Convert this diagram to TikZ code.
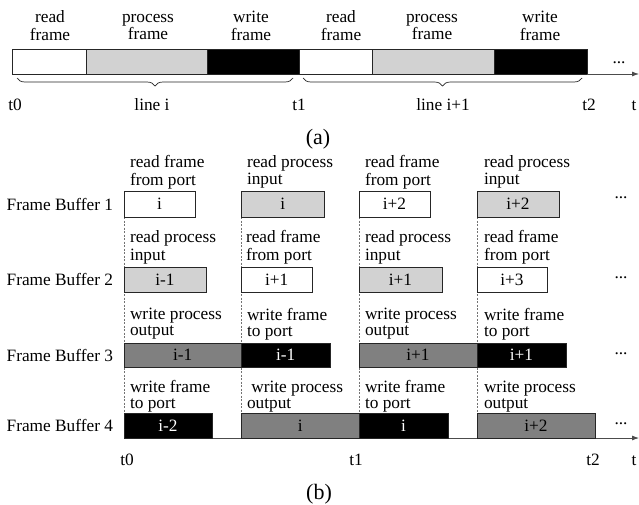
\documentclass[tikz,border=0pt]{standalone}
\usepackage{fontspec}
\setmainfont{Liberation Serif}
\usetikzlibrary{decorations.pathreplacing,arrows.meta}

\definecolor{lgray}{RGB}{210,210,210}
\definecolor{dgray}{RGB}{128,128,128}

\tikzset{
  txt/.style={font=\fontsize{17.3}{16}\selectfont, inner sep=0pt, outer sep=0pt},
  cell/.style={txt, draw=black!85, line width=0.8pt},
  wcell/.style={cell, fill=white},
  lcell/.style={cell, fill=lgray},
  dcell/.style={cell, fill=dgray},
  kcell/.style={cell, fill=black, text=white},
  tag/.style={txt, anchor=north west, align=left},
  ctag/.style={txt, anchor=north, align=center},
  tmark/.style={txt, anchor=base},
  caption/.style={tmark, font=\fontsize{22}{24}\selectfont},
  rowname/.style={txt, anchor=east},
  guide/.style={draw=black!55, line width=0.6pt, dash pattern=on 2pt off 1.5pt},
  axis/.style={draw=black!70, line width=0.8pt, -{Latex[length=7pt,width=5pt]}},
  bracket/.style={draw=black!85, line width=0.7pt,
    decorate, decoration={brace, mirror, amplitude=8pt}},
}

% \slot{style}{name}{x1}{y1}{x2}{y2}{text}
\newcommand\slot[7]{%
  \node[#1, minimum width={(#5-#3)*1pt}, minimum height={(#6-#4)*1pt}]
    (#2) at ({(#3+#5)/2},{(#4+#6)/2}) {#7};}

\begin{document}
\begin{tikzpicture}[x=1pt,y=-1pt]
\useasboundingbox (0,0) rectangle (639,504);

% ---------- (a) one line after another ----------
\slot{wcell}{r1}{12}{49}{86}{74}{}
\slot{lcell}{p1}{86}{49}{207}{74}{}
\slot{kcell}{w1}{207}{49}{299}{74}{}
\slot{wcell}{r2}{299}{49}{372}{74}{}
\slot{lcell}{p2}{372}{49}{494}{74}{}
\slot{kcell}{w2}{494}{49}{587}{74}{}

\node[ctag] (hr1) at (50,10.8)  {\strut read\\frame};
\node[ctag] (hp1) at (148,10.8) {\strut process\\ frame};
\node[ctag] (hw1) at (251,10.8) {\strut write\\frame};
\node[ctag] (hr2) at (341,10.8) {\strut read\\frame};
\node[ctag] (hp2) at (432,10.8) {\strut process\\frame};
\node[ctag] (hw2) at (540,10.8) {\strut write\\frame};

\coordinate (aend) at (639,74);
\draw[axis] (w2.south east) -- (aend);
\node[tmark] (adots) at (619,63) {...};

\coordinate (b1s) at (17,78);  \coordinate (b1e) at (293,78);
\coordinate (b2s) at (303,78); \coordinate (b2e) at (582,78);
\draw[bracket] (b1s) -- (b1e);
\draw[bracket] (b2s) -- (b2e);

\node[tmark] (at0) at (15,110)  {t0};
\node[tmark] (al1) at (152,110) {line i};
\node[tmark] (at1) at (299,110) {t1};
\node[tmark] (al2) at (443,110) {line i+1};
\node[tmark] (at2) at (589,110) {t2};
\node[tmark] (att) at (634,110) {t};
\node[caption] (capa) at (318,144) {(a)};

% ---------- (b) four frame buffers ----------
% dashed column guides (behind the cells)
\coordinate (g1a) at (124,217); \coordinate (g1b) at (124,413);
\coordinate (g2a) at (241.5,217); \coordinate (g2b) at (241.5,413);
\coordinate (g3a) at (359,217); \coordinate (g3b) at (359,413);
\coordinate (g4a) at (477,217); \coordinate (g4b) at (477,413);
\draw[guide] (g1a) -- (g1b);
\draw[guide] (g2a) -- (g2b);
\draw[guide] (g3a) -- (g3b);
\draw[guide] (g4a) -- (g4b);

% time axis
\coordinate (bstart) at (124,438);
\coordinate (bend) at (639,438);
\draw[axis] (bstart) -- (bend);

% buffer 1
\slot{wcell}{c11}{124}{191}{195}{217}{i}
\slot{lcell}{c12}{241.5}{191}{324}{217}{i}
\slot{wcell}{c13}{359}{191}{430}{217}{i+2}
\slot{lcell}{c14}{477}{191}{559}{217}{i+2}
% buffer 2
\slot{lcell}{c21}{124}{267}{206}{292}{i-1}
\slot{wcell}{c22}{241.5}{267}{312}{292}{i+1}
\slot{lcell}{c23}{359}{267}{442}{292}{i+1}
\slot{wcell}{c24}{477}{267}{547}{292}{i+3}
% buffer 3
\slot{dcell}{c31}{124}{343}{241.5}{367}{i-1}
\slot{kcell}{c32}{241.5}{343}{330}{367}{i-1}
\slot{dcell}{c33}{359}{343}{477}{367}{i+1}
\slot{kcell}{c34}{477}{343}{566}{367}{i+1}
% buffer 4
\slot{kcell}{c41}{124}{413}{212}{438}{i-2}
\slot{dcell}{c42}{241.5}{413}{359}{438}{i}
\slot{kcell}{c43}{359}{413}{448}{438}{i}
\slot{dcell}{c44}{477}{413}{595}{438}{i+2}

% row names
\node[rowname] (fb1) at (113,204)   {Frame Buffer 1};
\node[rowname] (fb2) at (113,279.5) {Frame Buffer 2};
\node[rowname] (fb3) at (113,355)   {Frame Buffer 3};
\node[rowname] (fb4) at (113,425.5) {Frame Buffer 4};

% operation labels
\node[tag] (o11) at (130,155.5) {\strut read frame\\from port};
\node[tag] (o12) at (247,155.5) {\strut read process\\input};
\node[tag] (o13) at (365,155.5) {\strut read frame\\from port};
\node[tag] (o14) at (484,155.5) {\strut read process\\input};

\node[tag] (o21) at (130,230.8) {\strut read process\\input};
\node[tag] (o22) at (246,230.8) {\strut read frame\\from port};
\node[tag] (o23) at (365,230.8) {\strut read process\\input};
\node[tag] (o24) at (484,230.8) {\strut read frame\\from port};

\node[tag] (o31) at (130,308.3) {\strut write process\\output};
\node[tag] (o32) at (247,308.3) {\strut write frame\\to port};
\node[tag] (o33) at (365,308.3) {\strut write process\\output};
\node[tag] (o34) at (484,308.3) {\strut write frame\\to port};

\node[tag] (o41) at (130,380.8) {\strut write frame\\to port};
\node[tag] (o42) at (247,380.8) {\strut\ write process\\output};
\node[tag] (o43) at (365,380.8) {\strut write frame\\to port};
\node[tag] (o44) at (484,380.8) {\strut write process\\output};

% continuation dots
\node[tmark] (d1) at (621,198) {...};
\node[tmark] (d2) at (621,278) {...};
\node[tmark] (d3) at (621,354) {...};
\node[tmark] (d4) at (621,424) {...};

% time marks
\node[tmark] (bt0) at (127,465) {t0};
\node[tmark] (bt1) at (356,465) {t1};
\node[tmark] (bt2) at (593,465) {t2};
\node[tmark] (btt) at (634,465) {t};
\node[caption] (capb) at (319,499) {(b)};
\end{tikzpicture}
\end{document}
